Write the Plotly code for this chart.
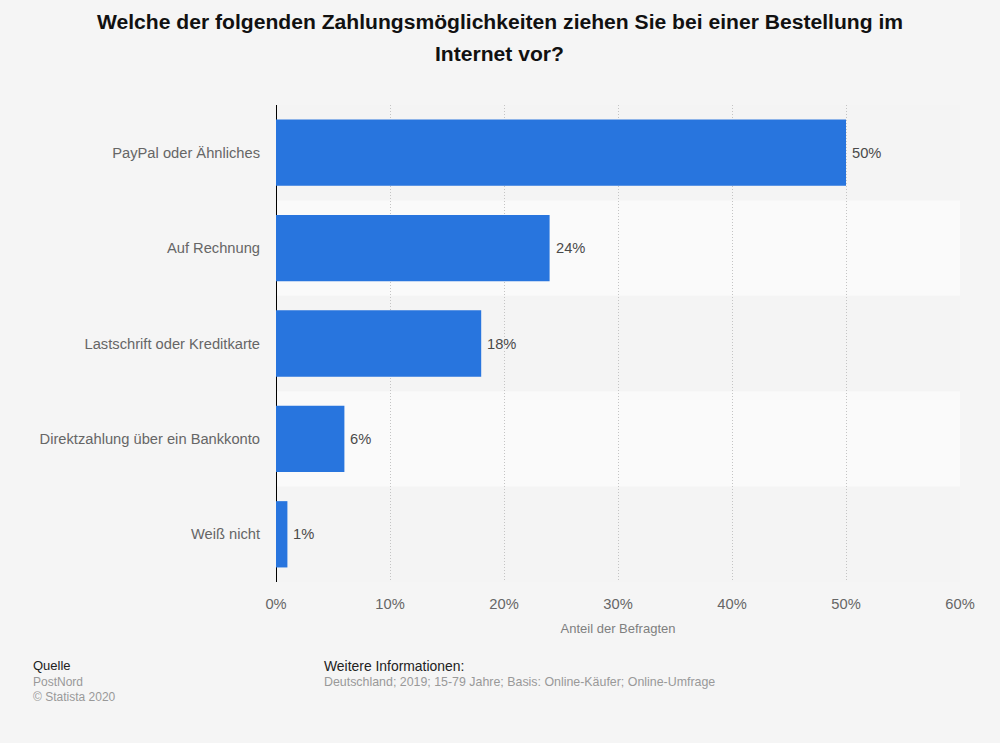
import plotly.graph_objects as go

categories = ["PayPal oder Ähnliches", "Auf Rechnung", "Lastschrift oder Kreditkarte",
              "Direktzahlung über ein Bankkonto", "Weiß nicht"]
values = [50, 24, 18, 6, 1]
x_ticks = [0, 10, 20, 30, 40, 50, 60]
x_labels = ["0%", "10%", "20%", "30%", "40%", "50%", "60%"]
title_lines = ["Welche der folgenden Zahlungsmöglichkeiten ziehen Sie bei einer Bestellung im",
               "Internet vor?"]

FONT = "Liberation Sans"
LEFT, RIGHT, TOP, BOTTOM = 276, 960, 105, 582


def px_x(x):
    return (x - LEFT) / (RIGHT - LEFT)


def px_y(y):
    return (BOTTOM - y) / (BOTTOM - TOP)


fig = go.Figure(go.Bar(
    y=categories,
    x=values,
    orientation="h",
    width=0.695,
    marker=dict(color="#2875de", line=dict(width=0)),
))

# value labels sit a bit further from the bars than plotly's own outside text
for cat, v in zip(categories, values):
    fig.add_annotation(x=v, y=cat, text=f"{v}%", showarrow=False, xanchor="left", yanchor="middle",
                       xshift=4, font=dict(family=FONT, size=14.7, color="#4a4a4a"))

# lighter bands behind every second row
for i in [1, 3]:
    fig.add_shape(type="rect", xref="paper", yref="y", x0=0, x1=1, y0=i - 0.5, y1=i + 0.5,
                  fillcolor="rgba(255,255,255,0.55)", line_width=0, layer="below")

fig.update_layout(
    width=1000, height=743,
    margin=dict(l=LEFT, r=1000 - RIGHT, t=TOP, b=743 - BOTTOM),
    autosize=False,
    paper_bgcolor="#f5f5f5",
    plot_bgcolor="#f4f4f4",
    showlegend=False,
    font=dict(family=FONT),
)
fig.update_xaxes(
    range=[0, 60], tickvals=x_ticks, ticktext=x_labels,
    showgrid=True, gridcolor="#c4c4c4", griddash="1px,2px", gridwidth=1,
    zeroline=True, zerolinecolor="#000000", zerolinewidth=1.3, showline=False,
    ticks="outside", ticklen=8, tickcolor="rgba(0,0,0,0)",
    tickfont=dict(family=FONT, size=14.7, color="#666666"),
    title=dict(text="Anteil der Befragten", standoff=13,
               font=dict(family=FONT, size=13, color="#7f7f7f")),
)
fig.update_yaxes(
    categoryorder="array", categoryarray=categories, autorange="reversed",
    showgrid=False, zeroline=False, showline=False,
    ticks="outside", ticklen=12, tickcolor="rgba(0,0,0,0)",
    tickfont=dict(family=FONT, size=14.7, color="#666666"),
)

# title lines are placed separately for the wide line spacing
for y, line in zip([21, 53], title_lines):
    fig.add_annotation(xref="paper", yref="paper", x=px_x(499.5), y=px_y(y), text=f"<b>{line}</b>",
                       showarrow=False, xanchor="center", yanchor="middle",
                       font=dict(family=FONT, size=21.1, color="#111111"))

footer = [
    (31, 665.5, "Quelle", 13, "#222222"),
    (31, 682, "PostNord", 12, "#999999"),
    (31, 697, "© Statista 2020", 12, "#999999"),
    (322, 665.5, "Weitere Informationen:", 13.9, "#222222"),
    (322, 682, "Deutschland; 2019; 15-79 Jahre; Basis: Online-Käufer; Online-Umfrage", 12.4, "#999999"),
]
for x, y, text, size, color in footer:
    fig.add_annotation(xref="paper", yref="paper", x=px_x(x), y=px_y(y), text=text, showarrow=False,
                       xanchor="left", yanchor="middle",
                       font=dict(family=FONT, size=size, color=color))

fig.write_html("out.html", config={"displayModeBar": False},
               post_script="document.body.style.margin='0';document.body.style.overflow='hidden';")
